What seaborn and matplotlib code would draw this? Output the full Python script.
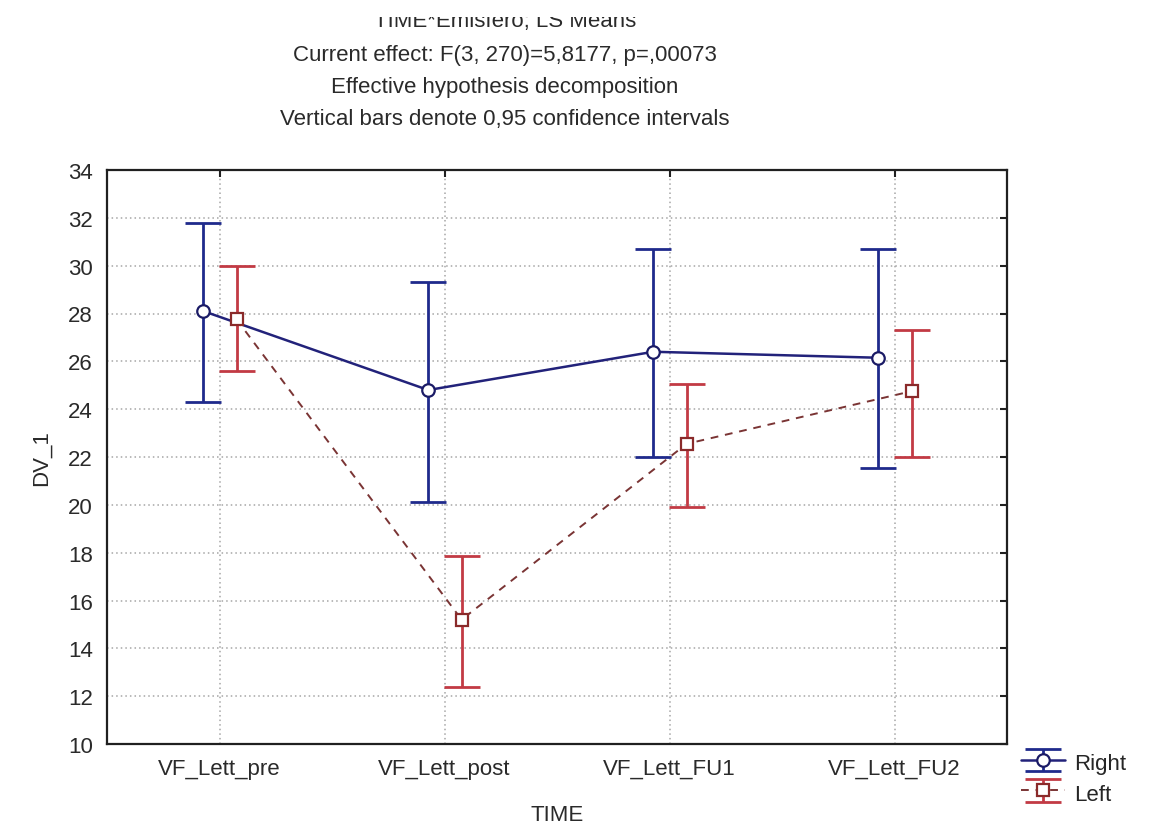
import numpy as np
import pandas as pd
import matplotlib
matplotlib.use("Agg")
import matplotlib.pyplot as plt
from matplotlib.container import ErrorbarContainer
from matplotlib.patches import Rectangle
import seaborn as sns

# LS means of DV_1 per TIME level, split by hemisphere, with 95% CI limits
times = ["VF_Lett_pre", "VF_Lett_post", "VF_Lett_FU1", "VF_Lett_FU2"]
right_mean = [28.1, 24.8, 26.4, 26.15]
right_lo = [24.3, 20.1, 22.0, 21.55]
right_hi = [31.8, 29.3, 30.7, 30.7]
left_mean = [27.75, 15.2, 22.55, 24.75]
left_lo = [25.6, 12.4, 19.9, 22.0]
left_hi = [30.0, 17.85, 25.05, 27.3]
y_ticks = list(range(10, 35, 2))

title_lines = [
    "TIME*Emisfero; LS Means",
    "Current effect: F(3, 270)=5,8177, p=,00073",
    "Effective hypothesis decomposition",
    "Vertical bars denote 0,95 confidence intervals",
]

sns.set_style("white")
plt.rcParams["font.family"] = ["Liberation Sans", "DejaVu Sans"]
TXT = "#2a2a2a"
FS = 16

def frame(mean, lo, hi, group, shift):
    return pd.DataFrame({
        "TIME": times,
        "pos": np.arange(len(times)) + shift,
        "DV_1": mean,
        "lo": lo,
        "hi": hi,
        "Emisfero": group,
    })

right_df = frame(right_mean, right_lo, right_hi, "Right", -0.072)
left_df = frame(left_mean, left_lo, left_hi, "Left", 0.076)

W, H = 1151, 829
fig = plt.figure(figsize=(W / 100, H / 100), dpi=100)
ax = fig.add_axes([107 / W, 1 - 745 / H, 900 / W, 574 / H])

series = [
    (right_df, "o", "-", "#22227a", "#1f2a8c", "#1b1b66"),
    (left_df, "s", (0, (4, 3.5)), "#7a3434", "#c23a44", "#8a2a2a"),
]

legend_handles = []
for df, marker, ls, line_col, bar_col, edge_col in series:
    eb = ax.errorbar(
        df["pos"], df["DV_1"],
        yerr=[df["DV_1"] - df["lo"], df["hi"] - df["DV_1"]],
        fmt="none", ecolor=bar_col, elinewidth=2.0, capsize=13, capthick=2.0,
        zorder=3,
    )
    n_before = len(ax.lines)
    sns.lineplot(
        data=df, x="pos", y="DV_1", ax=ax, color=line_col,
        linestyle=ls, linewidth=1.8 if ls == "-" else 1.4,
        marker=marker, markersize=9, markerfacecolor="white",
        markeredgecolor=edge_col, markeredgewidth=1.6,
        sort=False, zorder=4,
    )
    data_line = ax.lines[n_before]
    legend_handles.append(
        ErrorbarContainer((data_line, eb[1], eb[2]), has_xerr=False,
                          has_yerr=True, label=df["Emisfero"].iloc[0])
    )

ax.set_xlim(-0.5, 3.5)
ax.set_ylim(10, 34)
ax.set_xticks(range(len(times)))
ax.set_xticklabels(times)
ax.set_yticks(y_ticks)
ax.set_xlabel("TIME", fontsize=FS, color=TXT, labelpad=18)
ax.set_ylabel("DV_1", fontsize=FS, color=TXT, labelpad=12)

ax.grid(True, linestyle=(0, (1, 2)), color="#a6a6a6", linewidth=1.1)
ax.set_axisbelow(True)
ax.tick_params(direction="in", length=5, width=1.5, top=True, right=True,
               labelsize=FS, labelcolor=TXT, pad=10, color="#202020")
for sp in ax.spines.values():
    sp.set_color("#202020")
    sp.set_linewidth(1.6)

fig.legend(
    legend_handles, ["Right", "Left"], loc="upper left",
    bbox_to_anchor=(1012 / W, 1 - 743 / H), frameon=False, fontsize=FS,
    handlelength=2.0, handleheight=1.15, handletextpad=0.4, labelspacing=0.3,
    borderaxespad=0.0,
)

# stacked title lines above the plot
baselines = [27, 61, 93, 125]
for text, yb in zip(title_lines, baselines):
    fig.text(505 / W, 1 - yb / H, text, ha="center", va="baseline",
             fontsize=FS, color=TXT)
# top band of the canvas stays blank, clipping the first title line
fig.patches.append(Rectangle((0, 1 - 18 / H), 1, 18 / H,
                             transform=fig.transFigure, facecolor="white",
                             edgecolor="none", zorder=10))

fig.savefig("out.png", dpi=100)
